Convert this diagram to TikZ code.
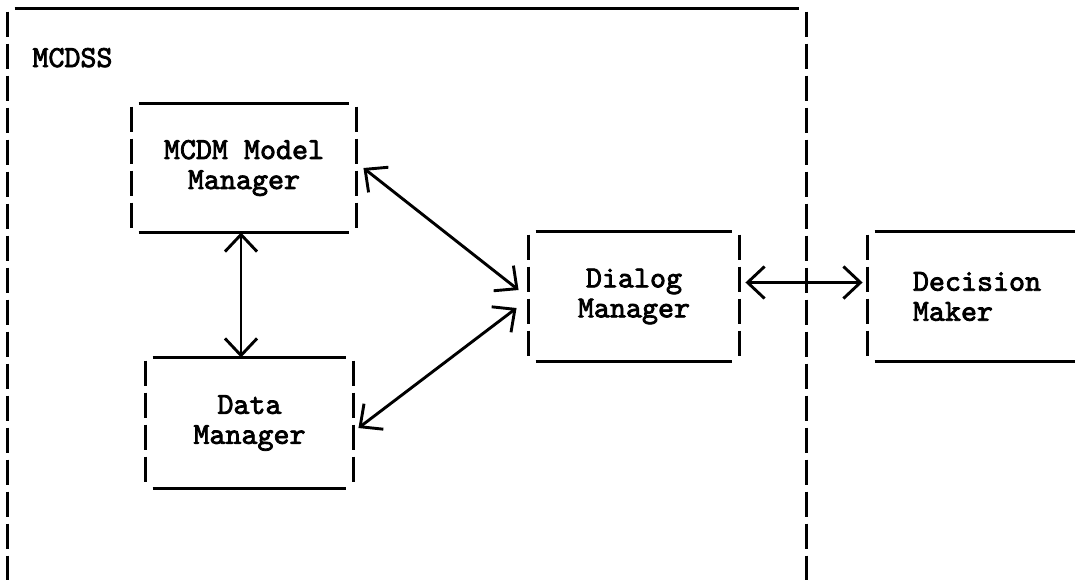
\documentclass[tikz,border=0pt]{standalone}
\usepackage{fontspec}
\newfontfamily\typefont[FakeBold=2.6]{lmmono10-regular.otf}
\usepackage{tikz}
\usetikzlibrary{arrows.meta}
\tikzset{>={Straight Barb[length=17pt,width=32pt]}}

\begin{document}
\begin{tikzpicture}[x=1pt,y=-1pt,line width=2.9pt,
    every node/.style={font=\fontsize{30.5}{30}\selectfont\typefont\bfseries,inner sep=0pt},
    sideline/.style={dash pattern=on 25pt off 7pt}]
      \useasboundingbox (0,0) rectangle (1075,579);
      \clip (0,0) rectangle (1075,579);

      % the boxes
      \node [minimum width=796pt,minimum height=590pt] (mcdss) at (407,305) {};
      \node [anchor=base west] (mcdsslabel) at (31,67) {MCDSS};

      \node [minimum width=222pt,minimum height=126pt,align=center]
      (mcdm) at (244,168) {MCDM Model\\Manager};

      \node [minimum width=205pt,minimum height=128pt,align=center]
      (data) at (249.5,423) {Data\\Manager};

      \node [minimum width=208pt,minimum height=127pt,align=center]
      (dialog) at (634,296.5) {Dialog\\Manager};

      \node [minimum width=216pt,minimum height=127pt,align=left]
      (decision) at (977,296.5) {Decision\\Maker};

      % solid top and bottom, dashed sides
      \foreach \b in {mcdss,mcdm,data,dialog,decision} {
        \draw ([xshift=7pt]\b.north west) -- ([xshift=-7pt]\b.north east);
        \draw ([xshift=7pt]\b.south west) -- ([xshift=-7pt]\b.south east);
        \draw [sideline] ([yshift=-3pt]\b.north west) -- ([yshift=3pt]\b.south west);
        \draw [sideline] ([yshift=-3pt]\b.north east) -- ([yshift=3pt]\b.south east);
      }

      % connectors
      \draw [<->] ([xshift=-3pt]mcdm.south) -- ([xshift=-3pt]mcdm.south |- data.north);
      \draw [<->] ([xshift=7pt]mcdm.east) -- ([xshift=-10pt,yshift=6.5pt]dialog.west);
      \draw [<->] ([xshift=5pt,yshift=-5pt]data.east) -- ([xshift=-12pt,yshift=-11.5pt]dialog.west);
      \draw [<->] ([xshift=6pt,yshift=14pt]dialog.east) -- ([xshift=-5pt,yshift=14pt]decision.west);
  \end{tikzpicture}
\end{document}
